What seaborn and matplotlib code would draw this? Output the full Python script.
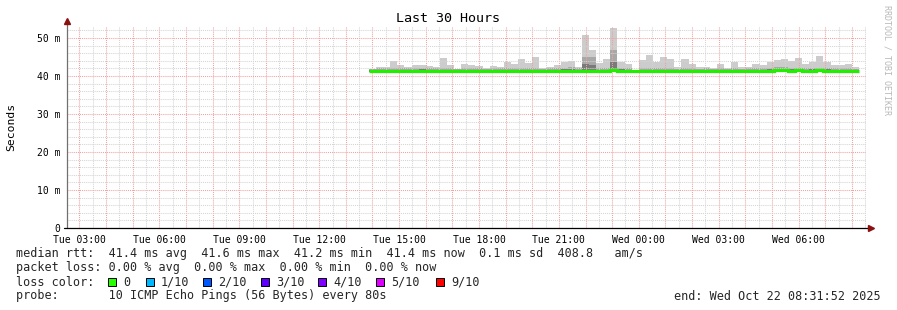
import numpy as np
import pandas as pd
import matplotlib
matplotlib.use("Agg")
import matplotlib.pyplot as plt
import matplotlib.dates as mdates
from matplotlib.ticker import MultipleLocator, FuncFormatter
from matplotlib.patches import Rectangle
import seaborn as sns

# ---------------- data (ms) ----------------
rtt_max = [41.9, 42.5, 42.5, 43.9, 42.9, 42.4, 43.0, 43.0, 42.6, 42.4,
           44.7, 42.9, 41.9, 43.2, 42.9, 42.6, 42.1, 42.7, 42.4, 43.8,
           43.2, 44.5, 43.5, 45.0, 42.1, 42.4, 42.8, 43.7, 43.9, 42.3,
           50.9, 46.8, 43.3, 44.5, 52.7, 43.7, 43.2, 41.7, 44.2, 45.5,
           43.7, 45.0, 44.5, 42.3, 44.5, 43.2, 42.3, 42.3, 42.1, 43.2,
           42.2, 43.7, 42.3, 42.4, 43.2, 42.9, 43.7, 44.2, 44.5, 43.9,
           44.7, 43.2, 43.7, 45.3, 43.7, 42.9, 42.9, 43.2, 42.3]
rtt_upper = [41.9, 42.0, 42.0, 42.1, 42.0, 42.0, 42.1, 42.2, 42.1, 42.0,
             42.1, 42.0, 41.9, 42.0, 42.0, 42.0, 41.9, 42.0, 42.0, 42.1,
             42.0, 42.1, 42.1, 42.2, 41.9, 42.0, 42.1, 42.2, 42.3, 42.0,
             45.0, 45.0, 42.2, 42.1, 46.8, 42.2, 42.0, 41.7, 42.0, 42.1,
             42.0, 42.1, 42.1, 41.9, 42.0, 42.0, 41.9, 42.0, 41.9, 42.0,
             41.9, 42.0, 41.9, 42.0, 42.0, 42.0, 42.1, 42.3, 42.3, 42.1,
             42.2, 42.0, 42.1, 42.2, 42.1, 42.0, 42.0, 42.0, 41.9]
rtt_inner = [41.7, 41.7, 41.7, 41.7, 41.6, 41.7, 41.7, 41.9, 41.7, 41.6,
             41.7, 41.7, 41.6, 41.6, 41.6, 41.7, 41.7, 41.7, 41.7, 41.6,
             41.7, 41.7, 41.6, 41.7, 41.6, 41.7, 41.7, 41.8, 41.8, 41.6,
             43.2, 42.8, 41.7, 41.6, 43.7, 41.8, 41.7, 41.6, 41.6, 41.7,
             41.6, 41.7, 41.7, 41.7, 41.7, 41.6, 41.7, 41.7, 41.7, 41.7,
             41.7, 41.7, 41.7, 41.7, 41.7, 41.7, 41.8, 41.9, 41.9, 41.8,
             41.9, 41.6, 41.8, 41.9, 41.8, 41.7, 41.7, 41.7, 41.7]
rtt_min = [41.0, 41.0, 41.0, 41.0, 40.8, 41.0, 41.0, 41.0, 41.0, 40.8,
           41.0, 41.0, 40.8, 40.8, 40.8, 41.0, 41.0, 41.0, 41.0, 40.8,
           41.0, 41.0, 40.8, 41.0, 40.8, 41.0, 41.0, 41.0, 41.0, 40.8,
           40.9, 41.0, 41.0, 40.8, 41.1, 41.0, 41.0, 40.8, 40.8, 41.0,
           40.8, 41.0, 41.0, 41.0, 41.0, 40.8, 41.0, 41.0, 41.0, 41.0,
           41.0, 41.0, 41.0, 41.0, 41.0, 41.0, 41.0, 41.1, 41.1, 41.0,
           41.1, 40.8, 41.0, 41.1, 41.0, 41.0, 41.0, 41.0, 41.0]
rtt_median = [41.4, 41.4, 41.4, 41.4, 41.2, 41.4, 41.4, 41.4, 41.4, 41.2,
              41.4, 41.4, 41.2, 41.2, 41.2, 41.4, 41.4, 41.4, 41.4, 41.2,
              41.4, 41.4, 41.2, 41.4, 41.2, 41.4, 41.4, 41.4, 41.4, 41.2,
              41.4, 41.4, 41.4, 41.2, 41.5, 41.4, 41.4, 41.2, 41.2, 41.4,
              41.2, 41.4, 41.4, 41.4, 41.4, 41.2, 41.4, 41.4, 41.4, 41.4,
              41.4, 41.4, 41.4, 41.4, 41.4, 41.4, 41.4, 41.5, 41.5, 41.4,
              41.5, 41.2, 41.4, 41.5, 41.4, 41.4, 41.4, 41.4, 41.4]

graph_start = pd.Timestamp("2025-10-21 02:31:52")
graph_end = pd.Timestamp("2025-10-22 08:31:52")
data_start = "2025-10-21 13:52"
bin_minutes = 16

yticks_ms = [0, 10, 20, 30, 40, 50]
ytick_labels = ["0", "10 m", "20 m", "30 m", "40 m", "50 m"]

loss_labels = ["0", "1/10", "2/10", "3/10", "4/10", "5/10", "9/10"]
loss_colors = ["#26ff00", "#00b8ff", "#0059ff", "#5e00ff", "#7e00ff", "#dd00ff", "#ff0000"]

# ---------------- setup ----------------
W, H = 897, 310
sns.set_theme(style="white")
plt.rcParams["font.family"] = ["DejaVu Sans Mono", "DejaVu Sans"]

fig = plt.figure(figsize=(W / 100, H / 100), dpi=100)
fig.patch.set_facecolor("white")

L, R, T, B = 67, 866, 26, 228
ax = fig.add_axes([L / W, 1 - B / H, (R - L) / W, (B - T) / H])
ax.set_facecolor("white")

times = pd.date_range(data_start, periods=len(rtt_max), freq=f"{bin_minutes}min")
df = pd.DataFrame({"time": times, "max": rtt_max, "upper": rtt_upper,
                   "inner": rtt_inner, "min": rtt_min, "median": rtt_median})
tnum = mdates.date2num(df["time"])
width = bin_minutes / 1440.0

# smoke layers
ax.bar(tnum, df["max"] - df["min"], bottom=df["min"], width=width, align="edge",
       color="#cccccc", linewidth=0, zorder=1)
ax.bar(tnum, df["upper"] - df["min"], bottom=df["min"], width=width, align="edge",
       color="#a8a8a8", linewidth=0, zorder=1.1)
ax.bar(tnum, df["inner"] - df["min"], bottom=df["min"], width=width, align="edge",
       color="#7a7a7a", linewidth=0, zorder=1.2)

# median line (steps)
med = pd.concat([df[["time", "median"]],
                 pd.DataFrame({"time": [df["time"].iloc[-1] + pd.Timedelta(minutes=bin_minutes)],
                               "median": [df["median"].iloc[-1]]})], ignore_index=True)
sns.lineplot(data=med, x="time", y="median", ax=ax, color="#22ee00",
             linewidth=2.3, drawstyle="steps-post", zorder=3,
             solid_joinstyle="miter", solid_capstyle="butt")

ax.set_xlim(mdates.date2num(graph_start), mdates.date2num(graph_end))
ax.set_ylim(0, (B - T) / 3.8)

# grids
ax.xaxis.set_major_locator(mdates.HourLocator(interval=1))
ax.xaxis.set_minor_locator(mdates.MinuteLocator(byminute=[30]))
ax.yaxis.set_major_locator(MultipleLocator(10))
ax.yaxis.set_minor_locator(MultipleLocator(2))
ax.set_axisbelow(False)
ax.grid(which="major", color="#f4a0a0", linestyle=(0, (1, 1)), linewidth=0.75, zorder=2)
ax.grid(which="minor", color="#d4d4d4", linestyle=(0, (1, 1)), linewidth=0.75, zorder=2)


def xfmt(v, pos):
    d = mdates.num2date(v)
    if d.hour % 3 == 0 and d.minute == 0:
        return d.strftime("%a %H:%M")
    return ""


ax.xaxis.set_major_formatter(FuncFormatter(xfmt))
ax.set_yticks(yticks_ms)
ax.set_yticklabels(ytick_labels)
ax.yaxis.set_minor_locator(MultipleLocator(2))
ax.tick_params(axis="x", which="major", length=2, width=0.7, color="#f4a0a0",
               pad=3, labelsize=7, labelcolor="black", direction="out")
ax.tick_params(axis="x", which="minor", length=0)
ax.tick_params(axis="y", which="major", length=2, width=0.7, color="#555555",
               pad=3, labelsize=7, labelcolor="black", direction="out")
ax.tick_params(axis="y", which="minor", length=0)
for s in ax.spines.values():
    s.set_visible(False)
ax.set_xlabel("")
ax.set_ylabel("")

# axis lines + arrows
ax.plot([0, 0], [0, 1 + 3 / 202], transform=ax.transAxes, color="#707070",
        linewidth=0.9, clip_on=False, zorder=4)
ax.plot([-3 / 799, 1 + 4 / 799], [0, 0], transform=ax.transAxes, color="black",
        linewidth=0.9, clip_on=False, zorder=4)
ax.plot([0], [1 + 5 / 202], marker="^", markersize=4.5, color="#8b1010",
        transform=ax.transAxes, clip_on=False, zorder=5)
ax.plot([1 + 5 / 799], [0], marker=">", markersize=4.5, color="#8b1010",
        transform=ax.transAxes, clip_on=False, zorder=5)


def ftext(x, y, s, **kw):
    fig.text(x / W, 1 - y / H, s, **kw)


ftext(448, 19, "Last 30 Hours", ha="center", va="center", fontsize=9.6, color="black")
ftext(11, 127, "Seconds", ha="center", va="center", rotation=90, fontsize=8.2, color="black")
ftext(887, 5, "RRDTOOL / TOBI OETIKER", ha="center", va="top", rotation=270,
      fontsize=6.0, color="#b8b8b8")

fs = 8.5
ftext(16, 254, "median rtt:  41.4 ms avg  41.6 ms max  41.2 ms min  41.4 ms now  0.1 ms sd  408.8   am/s",
      ha="left", va="center", fontsize=fs)
ftext(16, 268, "packet loss: 0.00 % avg  0.00 % max  0.00 % min  0.00 % now",
      ha="left", va="center", fontsize=fs)
ftext(16, 282, "loss color:", ha="left", va="center", fontsize=fs)
box_x = [108, 146, 203, 261, 318, 376, 436]
for bx, lab, col in zip(box_x, loss_labels, loss_colors):
    fig.patches.append(Rectangle((bx / W, 1 - 286 / H), 8 / W, 8 / H,
                                 transform=fig.transFigure, facecolor=col,
                                 edgecolor="black", linewidth=0.7))
    ftext(bx + 15, 282, lab, ha="left", va="center", fontsize=fs)
ftext(16, 296, "probe:       10 ICMP Echo Pings (56 Bytes) every 80s",
      ha="left", va="center", fontsize=fs)
ftext(881, 296, "end: Wed Oct 22 08:31:52 2025", ha="right", va="center", fontsize=fs)

fig.savefig("out.png", dpi=100, facecolor="white")
